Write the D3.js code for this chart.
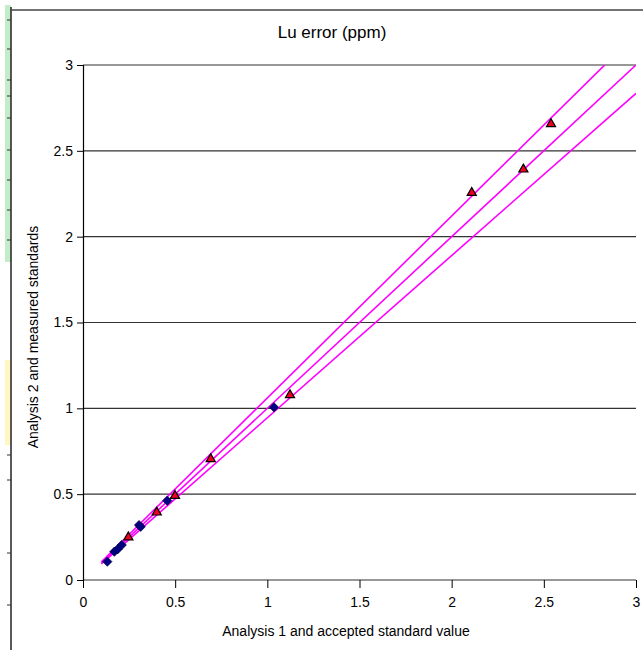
<!DOCTYPE html>
<html>
<head>
<meta charset="utf-8">
<script src="https://cdn.jsdelivr.net/npm/d3@7"></script>
<style>
  html, body { margin: 0; padding: 0; background: #fff; }
  svg { display: block; font-family: "Liberation Sans", Arial, sans-serif; }
</style>
</head>
<body>
<svg id="chart" width="643" height="650"></svg>
<script>
// Analysis 1 vs Analysis 2 (diamonds)
const dupX = [0.132, 0.170, 0.188, 0.210, 0.304, 0.313, 0.457, 1.036];
const dupY = [0.107, 0.165, 0.179, 0.204, 0.320, 0.310, 0.462, 1.006];
// Accepted standard value vs measured standards (triangles)
const stdX = [0.246, 0.400, 0.499, 0.693, 1.123, 2.109, 2.389, 2.539];
const stdY = [0.249, 0.394, 0.491, 0.705, 1.078, 2.256, 2.392, 2.656];
// Reference lines y = slope * x
const lineSlopes = [1.06, 1.0, 0.945];
const lineRange = [0.1, 3];
const xTicks = [0, 0.5, 1, 1.5, 2, 2.5, 3];
const yTicks = [0, 0.5, 1, 1.5, 2, 2.5, 3];

const svg = d3.select("#chart");

// sheet frame and side strip
svg.append("rect").attr("x", 5).attr("y", 5).attr("width", 6).attr("height", 257).attr("fill", "#c4ecc8");
svg.append("rect").attr("x", 5).attr("y", 360).attr("width", 6).attr("height", 85).attr("fill", "#fff6c4");
svg.append("line").attr("x1", 11).attr("x2", 11).attr("y1", 7).attr("y2", 650).attr("stroke", "#222").attr("stroke-width", 1.5);
svg.append("line").attr("x1", 11).attr("x2", 643).attr("y1", 10).attr("y2", 10).attr("stroke", "#444").attr("stroke-width", 1.5);
[20, 49, 80, 96, 118, 150, 180, 210, 240, 455, 480, 553, 605].forEach(y => {
  svg.append("line").attr("x1", 7).attr("x2", 11).attr("y1", y).attr("y2", y).attr("stroke", "#333");
});

const x = d3.scaleLinear().domain([0, 3]).range([83, 636]);
const y = d3.scaleLinear().domain([0, 3]).range([580, 65]);

// horizontal gridlines
svg.append("g").selectAll("line").data(yTicks).join("line")
  .attr("x1", x(0)).attr("x2", x(3))
  .attr("y1", d => y(d)).attr("y2", d => y(d))
  .attr("stroke", "#333").attr("stroke-width", 1.2);

// y axis
const yAxis = d3.axisLeft(y).tickValues(yTicks).tickSize(6).tickPadding(4)
  .tickFormat(d3.format("~g"));
const gy = svg.append("g").attr("transform", `translate(${x(0)},0)`).call(yAxis);
gy.select(".domain").attr("stroke", "#000").attr("stroke-width", 1.2);
gy.selectAll(".tick line").attr("stroke", "#000");
gy.selectAll("text").attr("font-size", 14).attr("fill", "#000")
  .attr("font-family", "Liberation Sans, Arial, sans-serif");

// x axis
const xAxis = d3.axisBottom(x).tickValues(xTicks).tickSize(8).tickPadding(9)
  .tickFormat(d3.format("~g"));
const gx = svg.append("g").attr("transform", `translate(0,${y(0)})`).call(xAxis);
gx.select(".domain").remove();
gx.selectAll(".tick line").attr("stroke", "#000");
gx.selectAll("text").attr("font-size", 14).attr("fill", "#000")
  .attr("font-family", "Liberation Sans, Arial, sans-serif");

// reference lines, clipped to the plot area
svg.append("clipPath").attr("id", "plotClip").append("rect")
  .attr("x", x(0)).attr("y", y(3)).attr("width", x(3) - x(0)).attr("height", y(0) - y(3));
const lineGen = d3.line().x(d => x(d[0])).y(d => y(d[1]));
svg.append("g").attr("clip-path", "url(#plotClip)").selectAll("path").data(lineSlopes).join("path")
  .attr("d", s => lineGen(lineRange.map(v => [v, v * s])))
  .attr("fill", "none").attr("stroke", "#ff00ff").attr("stroke-width", 1.6);

// diamonds
const diamond = d3.symbol().type(d3.symbolDiamond2).size(56);
svg.append("g").selectAll("path").data(dupX.map((v, i) => [v, dupY[i]])).join("path")
  .attr("d", diamond)
  .attr("transform", d => `translate(${x(d[0])},${y(d[1])})`)
  .attr("fill", "#000080").attr("stroke", "#000040").attr("stroke-width", 0.6);

// triangles
const tri = d3.symbol().type(d3.symbolTriangle).size(36);
svg.append("g").selectAll("path").data(stdX.map((v, i) => [v, stdY[i]])).join("path")
  .attr("d", tri)
  .attr("transform", d => `translate(${x(d[0])},${y(d[1])})`)
  .attr("fill", "#ee0022").attr("stroke", "#000").attr("stroke-width", 1.2);

// titles
svg.append("text").attr("x", 332).attr("y", 38).attr("text-anchor", "middle")
  .attr("font-size", 17).attr("fill", "#000").text("Lu error (ppm)");
svg.append("text").attr("x", 346).attr("y", 636).attr("text-anchor", "middle")
  .attr("font-size", 14).attr("fill", "#000").text("Analysis 1 and accepted standard value");
svg.append("text").attr("transform", "translate(38,337) rotate(-90)").attr("text-anchor", "middle")
  .attr("font-size", 14).attr("fill", "#000").text("Analysis 2 and measured standards");
</script>
</body>
</html>
